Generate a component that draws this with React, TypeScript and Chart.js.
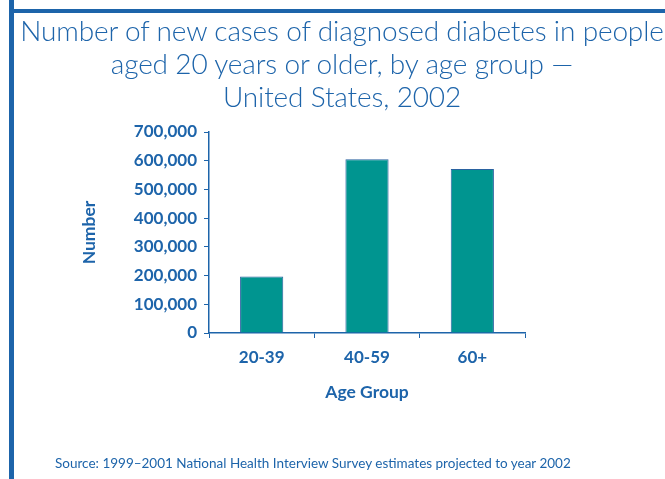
import React, { useEffect, useRef } from "react";
import { Chart, registerables } from "chart.js";

Chart.register(...registerables);

const categories = ["20-39", "40-59", "60+"];
const newCases = [197000, 605000, 571000];
const yTicks = [0, 100000, 200000, 300000, 400000, 500000, 600000, 700000];
const titleLines = [
  "Number of new cases of diagnosed diabetes in people",
  "aged 20 years or older, by age group \u2014",
  "United States, 2002",
];
const sourceText =
  "Source: 1999\u20132001 National Health Interview Survey estimates projected to year 2002";
const yTitle = "Number";
const xTitle = "Age Group";

const BLUE = "#1d64aa";
const TEAL = "#009590";
const FONT = "Lato, 'Open Sans', sans-serif";

export default function App() {
  const ref = useRef<HTMLCanvasElement | null>(null);

  useEffect(() => {
    if (!ref.current) return;
    const chart = new Chart(ref.current, {
      type: "bar",
      data: {
        labels: categories,
        datasets: [
          {
            data: newCases,
            backgroundColor: TEAL,
            borderColor: "#2a62a0",
            borderWidth: 1,
            categoryPercentage: 1,
            barPercentage: 0.41,
          },
        ],
      },
      options: {
        animation: false,
        responsive: false,
        devicePixelRatio: 1,
        layout: { padding: { left: 0, top: 132, right: 140, bottom: 66 } },
        plugins: { legend: { display: false }, tooltip: { enabled: false } },
        scales: {
          x: {
            afterFit: (s: any) => {
              s.height = 80;
            },
            grid: {
              display: true,
              drawOnChartArea: false,
              drawTicks: true,
              tickLength: 5,
              color: BLUE,
              offset: true,
            },
            border: { color: BLUE, width: 1.5 },
            ticks: {
              color: BLUE,
              padding: 9,
              font: { family: FONT, size: 17, weight: "bold" },
            },
            title: {
              display: true,
              text: xTitle,
              color: BLUE,
              padding: { top: 0, bottom: 10 },
              font: { family: FONT, size: 17.5, weight: "bold" },
            },
          },
          y: {
            min: 0,
            max: 700000,
            afterFit: (s: any) => {
              s.width = 209;
            },
            afterBuildTicks: (s: any) => {
              s.ticks = yTicks.map((v) => ({ value: v }));
            },
            grid: {
              display: true,
              drawOnChartArea: false,
              drawTicks: true,
              tickLength: 5,
              color: BLUE,
            },
            border: { color: BLUE, width: 1.5 },
            ticks: {
              color: BLUE,
              padding: 7,
              font: { family: FONT, size: 17, weight: "bold" },
              callback: (v: any) => Number(v).toLocaleString("en-US"),
            },
            title: {
              display: true,
              text: yTitle,
              color: BLUE,
              padding: { top: 79, bottom: 0 },
              font: { family: FONT, size: 17.5, weight: "bold" },
            },
          },
        },
      },
    });
    return () => chart.destroy();
  }, []);

  return (
    <div
      style={{
        position: "absolute",
        left: 0,
        top: 0,
        width: 665,
        height: 479,
        background: "#fff",
        overflow: "hidden",
        fontFamily: FONT,
      }}
    >
      <canvas
        ref={ref}
        width={665}
        height={479}
        style={{ position: "absolute", left: 0, top: 0, width: 665, height: 479 }}
      />
      <div
        style={{
          position: "absolute",
          left: 9,
          top: 0,
          width: 5,
          height: 479,
          background: BLUE,
        }}
      />
      <div
        style={{
          position: "absolute",
          left: 9,
          top: 9,
          width: 656,
          height: 4,
          background: BLUE,
        }}
      />
      <div
        style={{
          position: "absolute",
          left: 14,
          top: 14,
          width: 656,
          textAlign: "center",
          color: BLUE,
          fontSize: 28,
          fontWeight: 300,
          lineHeight: "33px",
          letterSpacing: -0.15,
          whiteSpace: "nowrap",
        }}
      >
        {titleLines.map((t, i) => (
          <div key={i}>{t}</div>
        ))}
      </div>
      <div
        style={{
          position: "absolute",
          left: 55,
          top: 454,
          color: BLUE,
          fontSize: 13.5,
          lineHeight: "18px",
          whiteSpace: "nowrap",
        }}
      >
        {sourceText}
      </div>
    </div>
  );
}
